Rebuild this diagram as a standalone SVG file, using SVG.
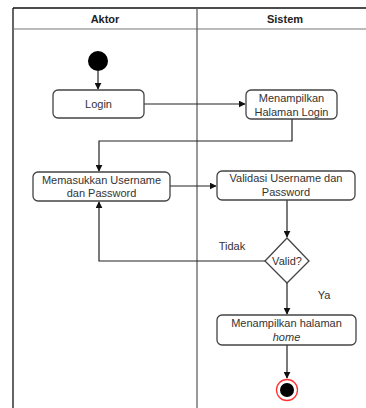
<svg xmlns="http://www.w3.org/2000/svg" width="366" height="408" viewBox="0 0 366 408">
<defs>
<style>
.t{font-family:"Liberation Sans",Arial,sans-serif;font-size:11px;fill:#333;text-anchor:middle}
.h{font-family:"Liberation Sans",Arial,sans-serif;font-size:11px;font-weight:bold;fill:#222;text-anchor:middle}
.box{fill:#fff;stroke:#444;stroke-width:1.3}
.ln{fill:none;stroke:#222;stroke-width:1.2}
</style>
<marker id="ar" viewBox="0 0 10 10" refX="9" refY="5" markerWidth="7" markerHeight="7" markerUnits="userSpaceOnUse" orient="auto">
<path d="M0,0 L10,5 L0,10 Z" fill="#111"/>
</marker>
</defs>
<rect width="366" height="408" fill="#fff"/>
<g id="lanes">
<line x1="13" y1="8" x2="366" y2="8" stroke="#111" stroke-width="1.3"/>
<line x1="13" y1="8" x2="13" y2="408" stroke="#111" stroke-width="1.3"/>
<line x1="13" y1="29" x2="366" y2="29" stroke="#777" stroke-width="1.2"/>
<line x1="197" y1="8" x2="197" y2="408" stroke="#555" stroke-width="1.2"/>
<text class="h" x="105" y="23">Aktor</text>
<text class="h" x="285" y="23">Sistem</text>
</g>
<g id="connectors">
<path class="ln" d="M98,71 V89" marker-end="url(#ar)"/>
<path class="ln" d="M144,104 H245" marker-end="url(#ar)"/>
<path class="ln" d="M292,119 V141 H99 V171" marker-end="url(#ar)"/>
<path class="ln" d="M170,186 H216" marker-end="url(#ar)"/>
<path class="ln" d="M287,200 V237" marker-end="url(#ar)"/>
<path class="ln" d="M265,261 H99 V202" marker-end="url(#ar)"/>
<path class="ln" d="M287,283 V314" marker-end="url(#ar)"/>
<path class="ln" d="M287,345 V378" marker-end="url(#ar)"/>
<text class="t" x="232" y="250">Tidak</text>
<text class="t" x="324" y="299">Ya</text>
</g>
<g id="start"><circle cx="98" cy="61" r="10" fill="#000"/></g>
<g id="login">
<rect class="box" x="53" y="90" width="91" height="28" rx="5"/>
<text class="t" x="98.5" y="108">Login</text>
</g>
<g id="tampilLogin">
<rect class="box" x="246" y="90" width="91" height="29" rx="5"/>
<text class="t" x="291.5" y="102">Menampilkan</text>
<text class="t" x="291.5" y="116">Halaman Login</text>
</g>
<g id="masukkan">
<rect class="box" x="33" y="172" width="137" height="29" rx="5"/>
<text class="t" x="101.5" y="184">Memasukkan Username</text>
<text class="t" x="101.5" y="197">dan Password</text>
</g>
<g id="validasi">
<rect class="box" x="217" y="171" width="138" height="29" rx="5"/>
<text class="t" x="286" y="182">Validasi Username dan</text>
<text class="t" x="286" y="196">Password</text>
</g>
<g id="valid">
<path class="box" d="M287,238 L309,261 L287,283 L265,261 Z"/>
<text class="t" x="287" y="265">Valid?</text>
</g>
<g id="home">
<rect class="box" x="217" y="315" width="139" height="30" rx="5"/>
<text class="t" x="286.5" y="327">Menampilkan halaman</text>
<text class="t" x="286.5" y="341" font-style="italic">home</text>
</g>
<g id="end">
<circle cx="287" cy="390" r="10.5" fill="#fff" stroke="#f33" stroke-width="1.3"/>
<circle cx="287" cy="390" r="7" fill="#000"/>
</g>
</svg>
